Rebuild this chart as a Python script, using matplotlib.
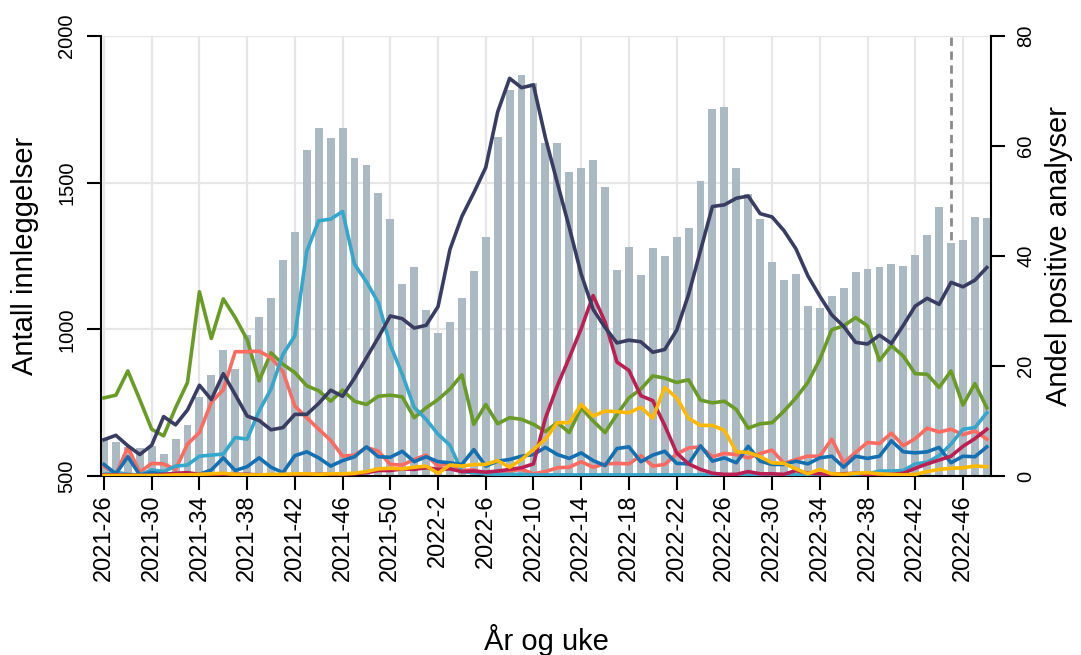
import numpy as np
import matplotlib.pyplot as plt

plt.rcParams['font.family'] = ['Liberation Sans', 'DejaVu Sans']

# ISO weeks 2021-26 .. 2022-48
weeks = [f"2021-{w}" for w in range(26, 53)] + [f"2022-{w}" for w in range(1, 49)]

# number of admissions (left axis)
admissions = [628, 617, 600, 594, 602, 574, 625, 674, 769, 843,
              928, 866, 980, 1043, 1108, 1235, 1332, 1611, 1685, 1653,
              1685, 1583, 1560, 1465, 1375, 1156, 1214, 1067, 989, 1026,
              1106, 1199, 1316, 1657, 1817, 1868, 1840, 1634, 1634, 1536,
              1551, 1578, 1486, 1202, 1280, 1186, 1276, 1249, 1316, 1345,
              1507, 1750, 1758, 1551, 1462, 1375, 1230, 1167, 1189, 1080,
              1074, 1114, 1142, 1195, 1207, 1211, 1224, 1216, 1255, 1323,
              1418, 1293, 1305, 1383, 1378]

# share of positive tests in percent (right axis)
navy_share = [6.6, 7.4, 5.5, 3.9, 5.6, 10.8, 9.3, 12.0, 16.5, 13.9,
              18.6, 14.8, 10.9, 10.1, 8.4, 8.8, 11.2, 11.2, 13.2, 15.6,
              14.5, 17.8, 21.5, 25.2, 29.1, 28.6, 26.9, 27.4, 30.8, 41.2,
              47.2, 51.5, 56.1, 66.2, 72.3, 70.6, 71.1, 61.5, 53.3, 45.2,
              36.7, 30.3, 27.0, 24.2, 24.7, 24.4, 22.5, 23.0, 26.5, 33.0,
              41.0, 49.0, 49.3, 50.5, 50.9, 47.7, 47.1, 44.6, 41.3, 36.4,
              32.7, 29.3, 27.2, 24.3, 24.0, 25.6, 24.1, 27.4, 30.9, 32.3,
              31.2, 35.2, 34.4, 35.6, 37.9]
green_share = [14.2, 14.7, 19.1, 13.9, 8.5, 7.3, 12.4, 17.0, 33.5, 25.0,
               32.2, 28.8, 24.8, 17.3, 22.4, 20.3, 18.8, 16.4, 15.5, 13.6,
               15.6, 13.6, 13.0, 14.5, 14.7, 14.4, 10.6, 12.4, 13.9, 15.8,
               18.4, 9.4, 13.0, 9.5, 10.6, 10.3, 9.4, 8.1, 9.7, 7.9,
               12.4, 10.0, 7.9, 11.2, 14.2, 15.8, 18.2, 17.8, 17.0, 17.5,
               13.8, 13.3, 13.6, 12.1, 8.7, 9.5, 9.7, 11.8, 14.2, 17.0,
               21.2, 26.6, 27.3, 28.8, 27.3, 21.0, 23.7, 21.8, 18.6, 18.5,
               16.1, 19.1, 12.9, 16.8, 12.4]
salmon_share = [1.8, 0.3, 5.2, 0.7, 2.3, 2.2, 1.2, 5.8, 7.9, 13.4,
                15.7, 22.6, 22.6, 22.7, 21.5, 19.0, 12.7, 10.6, 8.5, 6.5,
                3.6, 3.8, 5.2, 4.5, 2.1, 2.0, 3.0, 3.8, 1.8, 2.4,
                1.0, 1.1, 0.4, 0.5, 0.9, 1.2, 0.4, 0.8, 1.5, 1.6,
                2.6, 1.6, 2.2, 2.3, 2.2, 3.7, 1.8, 2.1, 4.0, 5.1,
                5.3, 3.5, 4.1, 3.9, 3.3, 4.1, 4.7, 2.3, 3.0, 3.6,
                3.6, 6.7, 2.4, 4.3, 6.1, 5.9, 7.8, 5.5, 6.8, 8.7,
                8.0, 8.5, 7.5, 8.2, 6.7]
cyan_share = [0.3, 0.7, 0.3, 0.2, 1.1, 0.8, 1.8, 2.0, 3.6, 3.8,
              4.0, 7.0, 6.7, 11.8, 15.8, 22.1, 25.5, 40.9, 46.4, 46.7,
              48.1, 38.5, 35.3, 31.5, 23.8, 18.5, 12.5, 10.3, 7.6, 5.6,
              0.8, 0.6, 0.4, 0.3, 0.3, 0.3, 0.2, 0.2, 0.2, 0.2,
              0.2, 0.2, 0.2, 0.2, 0.2, 0.2, 0.2, 0.2, 0.2, 0.2,
              0.2, 0.2, 0.2, 0.2, 0.2, 0.2, 0.2, 0.2, 0.2, 0.2,
              0.2, 0.2, 0.2, 0.3, 0.4, 0.9, 0.9, 1.0, 2.2, 2.5,
              3.7, 5.8, 8.5, 8.8, 11.5]
blue_share = [2.1, 0.4, 3.5, 0.2, 0.6, 0.3, 0.2, 0.3, 0.3, 1.1,
              3.3, 1.0, 1.7, 3.3, 1.6, 0.6, 3.7, 4.4, 3.3, 1.8,
              2.8, 3.5, 5.3, 3.5, 3.4, 4.5, 2.6, 3.5, 2.6, 2.4,
              2.1, 4.8, 1.8, 2.7, 3.0, 3.6, 3.9, 5.2, 3.9, 3.2,
              4.2, 2.8, 1.9, 5.0, 5.3, 2.6, 3.8, 4.5, 2.3, 2.2,
              5.5, 2.7, 3.3, 2.4, 5.4, 2.7, 2.1, 2.1, 2.7, 2.2,
              3.3, 3.6, 1.6, 3.6, 3.2, 3.6, 6.4, 4.4, 4.2, 4.4,
              5.2, 2.4, 3.6, 3.5, 5.3]
crimson_share = [0.2, 0.2, 0.2, 0.1, 0.1, 0.3, 0.5, 0.6, 0.3, 0.2,
                 0.2, 0.3, 0.3, 0.2, 0.2, 0.2, 0.2, 0.3, 0.3, 0.3,
                 0.3, 0.4, 0.6, 1.0, 1.0, 1.3, 1.2, 1.5, 1.2, 1.3,
                 0.8, 0.9, 0.7, 0.9, 1.2, 1.5, 2.2, 10.5, 16.4, 21.5,
                 26.8, 32.8, 28.0, 20.7, 19.2, 14.6, 13.7, 9.2, 4.2, 2.2,
                 1.2, 0.5, 0.3, 0.3, 0.8, 0.4, 0.4, 0.3, 1.0, 0.5,
                 0.4, 0.3, 0.4, 0.5, 0.3, 0.3, 0.3, 0.5, 1.4, 2.2,
                 2.9, 3.6, 5.4, 6.8, 8.5]
yellow_share = [0.1, 0.1, 0.1, 0.1, 0.1, 0.1, 0.2, 0.2, 0.3, 0.4,
                0.5, 0.3, 0.2, 0.2, 0.3, 0.3, 0.4, 0.4, 0.3, 0.4,
                0.4, 0.5, 0.8, 1.3, 1.4, 1.3, 1.6, 1.8, 0.5, 2.0,
                1.8, 2.1, 2.1, 2.8, 1.6, 3.0, 4.8, 6.7, 9.7, 9.7,
                13.0, 10.9, 11.8, 11.7, 11.5, 12.5, 10.5, 16.1, 14.2, 10.5,
                9.2, 9.2, 8.3, 4.4, 4.3, 3.5, 2.4, 2.3, 1.3, 0.4,
                1.2, 0.4, 0.3, 0.5, 0.6, 0.4, 0.3, 0.2, 0.3, 0.8,
                1.2, 1.4, 1.5, 1.8, 1.7]

series = [
    (green_share, "#6a9b27"),
    (salmon_share, "#ff6b61"),
    (cyan_share, "#35a7cb"),
    (blue_share, "#1570b3"),
    (crimson_share, "#bd1f53"),
    (yellow_share, "#ffb900"),
    (navy_share, "#393d62"),
]

x = np.arange(len(weeks))

fig = plt.figure(figsize=(10.81, 6.55), dpi=100)
ax = fig.add_axes([101 / 1081, 1 - 476 / 655, 890 / 1081, 440 / 655])

ax.set_axisbelow(True)
ax.grid(True, color="#e6e6e6", lw=1.6)
ax.axvline(71, color="#8a8a8a", lw=2, ls=(0, (3, 2)), zorder=1)
ax.bar(x, admissions, width=0.66, color="#abb9c2", zorder=2)

ax.set_xlim(-0.25, 74.35)
ax.set_ylim(500, 2000)
ax.set_yticks([500, 1000, 1500, 2000])
ax.set_xticks(x[::4])
ax.set_xticklabels(weeks[::4], rotation=90, va="top", ha="center")
ax.tick_params(axis="both", length=10, width=1.5, color="black")
ax.tick_params(axis="x", labelsize=17, pad=3)
ax.tick_params(axis="y", labelsize=14.5, labelrotation=90, pad=8)
for lab in ax.get_yticklabels():
    lab.set_va("center")
for side in ["top", "right"]:
    ax.spines[side].set_visible(False)
for side in ["left", "bottom"]:
    ax.spines[side].set_linewidth(1.5)

ax2 = ax.twinx()
for vals, col in series:
    ax2.plot(x, vals, color=col, lw=2.6, solid_joinstyle="round")
ax2.set_ylim(0, 80)
ax2.set_yticks([0, 20, 40, 60, 80])
ax2.tick_params(axis="y", length=10, width=1.5, labelsize=14.5,
                labelrotation=90, pad=8)
for lab in ax2.get_yticklabels():
    lab.set_va("center")
for side in ["top", "left", "bottom"]:
    ax2.spines[side].set_visible(False)
ax2.spines["right"].set_linewidth(1.5)

ax.set_ylabel("Antall innleggelser", fontsize=21, va="center", ha="center")
ax.yaxis.set_label_coords(-0.085, 0.5)
ax2.set_ylabel("Andel positive analyser", fontsize=21, va="center", ha="center")
ax2.yaxis.set_label_coords(1.076, 0.5)
ax.set_xlabel("År og uke", fontsize=21, va="center")
ax.xaxis.set_label_coords(0.5, -0.373)

fig.savefig("out.png", dpi=100)
